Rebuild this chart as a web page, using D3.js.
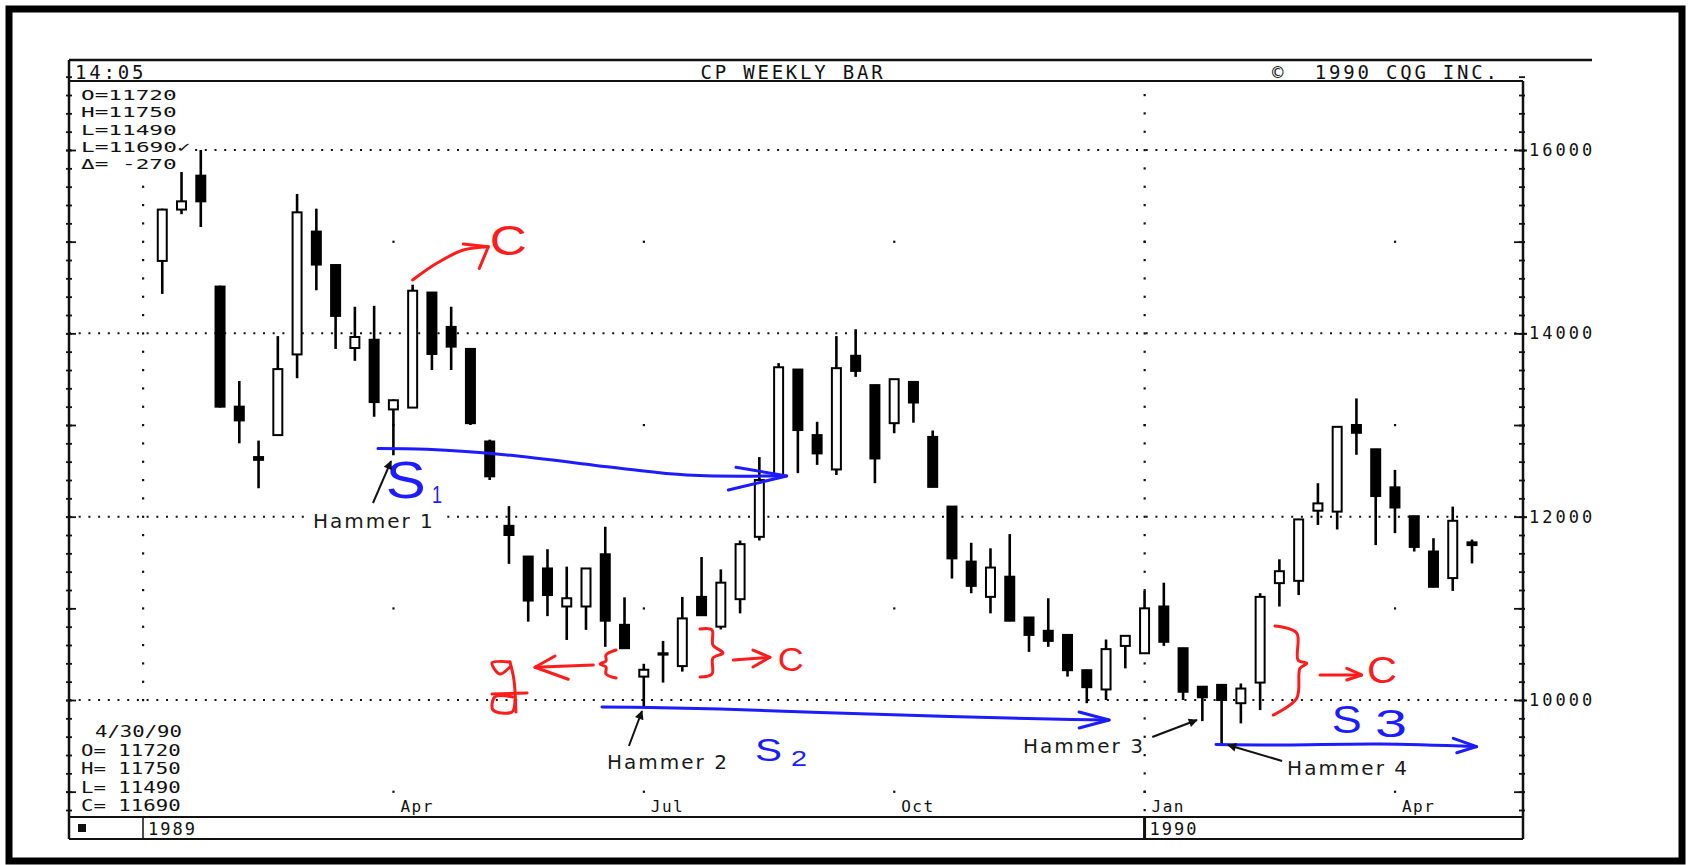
<!DOCTYPE html>
<html>
<head>
<meta charset="utf-8">
<title>CP Weekly Bar</title>
<script src="https://cdn.jsdelivr.net/npm/d3@7/dist/d3.min.js"></script>
<style>
  html, body { margin: 0; padding: 0; background: #fff; }
  svg { display: block; }
  .mono { font-family: "DejaVu Sans Mono", "Liberation Mono", monospace; fill: #111; }
</style>
</head>
<body>
<div id="chart"></div>
<script>
// weekly bars, one per Monday
const firstWeek = "1989-01-09";
const lastWeek  = "1990-04-30";

const opens  = [14790, 15350, 15720, 14510, 13200, 12650, 12890, 13770, 15110, 14745, 13840, 13930, 13170,
                13190, 14445, 14070, 13830, 12820, 11900, 11565, 11435, 11020, 11020, 11590, 10820, 10255,
                10510, 10370, 11125, 10800, 11100, 11780, 12445, 13605, 12890, 12515, 13755, 13435, 13020,
                13470, 12870, 12110, 11510, 11125, 11345, 10900, 10755, 10710, 10325, 10115, 10590, 10510,
                11020, 10565, 10145, 10165,  9965, 10190, 11275, 11300, 12065, 12055, 13000, 12735, 12320,
                12005, 11620, 11330, 11720];
const highs  = [15360, 15760, 16000, 14520, 13480, 12830, 13970, 15520, 15360, 14750, 14290, 14300, 13280,
                14530, 14450, 14290, 13830, 12840, 12115, 11570, 11645, 11455, 11440, 11890, 11120, 10395,
                10645, 11125, 11560, 11425, 11740, 12650, 13675, 13610, 13035, 13970, 14045, 13440, 13500,
                13475, 12940, 12110, 11715, 11655, 11810, 10905, 11110, 10715, 10330, 10660, 10700, 11190,
                11280, 10570, 10150, 10170, 10180, 11165, 11535, 11975, 12365, 12985, 13290, 12740, 12510,
                12010, 11765, 12110, 11750];
const lows   = [14430, 15300, 15160, 13190, 12800, 12310, 12880, 13510, 14470, 13830, 13700, 13090, 12670,
                13190, 13600, 13600, 13000, 12400, 11485, 10855, 10915, 10655, 10765, 10580, 10560,  9920,
                10190, 10310, 10925, 10770, 10945, 11740, 12440, 12475, 12565, 12455, 13525, 12365, 12910,
                13025, 12320, 11325, 11165, 10945, 10860, 10525, 10580, 10255,  9965, 10000, 10345, 10505,
                10590, 10000,  9770,  9510,  9745,  9890, 11020, 11145, 11910, 11860, 12675, 11690, 11820,
                11620, 11230, 11190, 11490];
const closes = [15350, 15440, 15440, 13200, 13050, 12620, 13610, 15320, 14750, 14190, 13960, 13250, 13270,
                14465, 13775, 13855, 13020, 12440, 11800, 11085, 11145, 11110, 11435, 10865, 10565, 10330,
                10495, 10890, 10925, 11280, 11700, 12400, 13630, 12945, 12690, 13620, 13590, 12635, 13500,
                13245, 12325, 11545, 11245, 11445, 10865, 10710, 10645, 10325, 10140, 10555, 10700, 11000,
                10635, 10090, 10030, 10000, 10125, 11125, 11405, 11970, 12145, 12980, 12915, 12225, 12100,
                11670, 11235, 11955, 11690];

// axis text
const quarterStarts = ["1989-01-02", "1989-04-03", "1989-07-03", "1989-10-02", "1990-01-01", "1990-04-02"];
const quarterNames  = ["", "Apr", "Jul", "Oct", "Jan", "Apr"];
const yearStarts = ["1989-01-02", "1990-01-01"];
const yearNames  = ["1989", "1990"];
const priceLines = [10000, 12000, 14000, 16000];

// header and readout text
const headerLeft  = "14:05";
const headerTitle = "CP WEEKLY BAR";
const headerRight = "©\u00a0 1990 CQG INC.";
const topReadout    = ["O=11720", "H=11750", "L=11490", "L=11690✓", "Δ= -270"];
const bottomDate    = "4/30/90";
const bottomReadout = ["O= 11720", "H= 11750", "L= 11490", "C= 11690"];

// hand-drawn notes, points as [week index, price]
const hammerNames   = ["Hammer 1", "Hammer 2", "Hammer 3", "Hammer 4"];
const hammerAnchors = [[7.82, 11876], [23.09, 9247], [44.69, 9422], [58.4, 9182]];
const hammerArrows  = [
  [[10.94, 12149], [11.88, 12607]],
  [[24.23, 9498], [24.91, 9880]],
  [[51.4, 9596], [53.72, 9782]],
  [[58.14, 9335], [55.33, 9509]]
];
const blueLines = [
  [[11.2, 12744], [13.74, 12735], [17.9, 12673], [23.76, 12528], [27.24, 12455], [32.42, 12444]],
  [[22.83, 9924], [25.32, 9918], [28.96, 9902], [34.15, 9864], [40.9, 9820], [46.09, 9793], [49.16, 9782]],
  [[54.71, 9515], [58.03, 9509], [63.22, 9520], [68.24, 9491]]
];
const blueHeads = [
  [[29.79, 12539], [32.42, 12444], [29.39, 12291]],
  [[47.6, 9869], [49.16, 9782], [47.6, 9695]],
  [[67.03, 9582], [68.24, 9491], [67.21, 9425]]
];
const redLines = [
  [[13.0, 14582], [14.25, 14764], [15.63, 14909], [16.93, 14945]],
  [[22.38, 10382], [19.35, 10357]],
  [[29.65, 10436], [31.55, 10466]],
  [[60.11, 10273], [62.27, 10273]],
  // braces
  [[23.56, 10545], [23.04, 10491], [23.04, 10425], [22.73, 10393], [23.04, 10360], [23.04, 10284], [23.56, 10240]],
  [[27.92, 10775], [28.54, 10764], [28.59, 10600], [29.11, 10513], [28.59, 10458], [28.54, 10284], [27.92, 10251]],
  [[57.77, 10807], [58.9, 10731], [58.97, 10436], [59.42, 10400], [59.07, 10346], [58.9, 10019], [57.68, 9836]],
  // scribbled mark left of the first brace
  [[18.05, 10415], [17.12, 10404], [17.53, 10284], [18.05, 10360]],
  [[18.05, 10415], [18.26, 10218], [18.36, 9869]],
  [[17.12, 10065], [18.94, 10076]],
  [[18.21, 10033], [17.27, 10033], [17.17, 9891], [18.16, 9869], [18.31, 10000]]
];
const redHeads = [
  [[15.63, 14974], [16.93, 14945], [16.46, 14709]],
  [[20.39, 10480], [19.35, 10357], [21.08, 10226]],
  [[30.67, 10545], [31.55, 10466], [30.67, 10360]],
  [[61.5, 10346], [62.27, 10273], [61.5, 10218]]
];
const noteTexts = [
  { text: "C", at: [17.01, 14850], color: "red",  size: 42, len: 37 },
  { text: "C", at: [31.96, 10320], color: "red",  size: 34, len: 26 },
  { text: "C", at: [62.55, 10185], color: "red",  size: 36, len: 30 },
  { text: "S", at: [11.61, 12204], color: "blue", size: 52, len: 40 },
  { text: "1", at: [14.0, 12149],  color: "blue", size: 24, len: 10 },
  { text: "S", at: [30.77, 9335],  color: "blue", size: 32, len: 27 },
  { text: "2", at: [32.64, 9280],  color: "blue", size: 22, len: 16 },
  { text: "S", at: [60.72, 9637],  color: "blue", size: 39, len: 30 },
  { text: "3", at: [62.96, 9600],  color: "blue", size: 39, len: 32 }
];

const W = 1691, H = 865;
const plot = { left: 69, right: 1523, top: 81, bottom: 817, head: 60, strip: 839 };
const inkRed = "#ff1c1c", inkBlue = "#1c1cff";

const parseDay = d3.utcParse("%Y-%m-%d");
const weeks = d3.utcMonday.range(parseDay(firstWeek), d3.utcDay.offset(parseDay(lastWeek), 1));
const bars = weeks.map((d, i) => ({ date: d, o: opens[i], h: highs[i], l: lows[i], c: closes[i] }));

const x = d3.scaleUtc()
  .domain([parseDay(quarterStarts[0]), parseDay(lastWeek)])
  .range([143, 1472]);
const y = d3.scaleLinear().domain([10000, 16000]).range([700, 150]);
// fractional week position, for the notes
const wx = d3.scaleLinear()
  .domain([0, bars.length - 1])
  .range([x(weeks[0]), x(weeks[weeks.length - 1])]);
const pt = (p) => [wx(p[0]), y(p[1])];

const minorTicks = d3.range(8800, 16801, 200);
const majorTicks = d3.range(9000, 16001, 1000);
const oddThousands = majorTicks.filter((v) => v % 2000 !== 0);

const svg = d3.select("#chart").append("svg")
  .attr("width", W).attr("height", H);

svg.append("rect").attr("width", W).attr("height", H).attr("fill", "#fff");

// arrow tip for the black pointers
svg.append("defs").append("marker")
  .attr("id", "tip")
  .attr("viewBox", "0 0 10 10")
  .attr("refX", 9).attr("refY", 5)
  .attr("markerWidth", 13).attr("markerHeight", 9)
  .attr("markerUnits", "userSpaceOnUse")
  .attr("orient", "auto")
  .append("path").attr("d", "M0,0L10,5L0,10z").attr("fill", "#111");

// Outer frame
svg.append("rect")
  .attr("x", 9).attr("y", 9).attr("width", W - 18).attr("height", H - 13)
  .attr("fill", "none").attr("stroke", "#000").attr("stroke-width", 7);

// Horizontal dotted grid
svg.append("g").selectAll("line")
  .data(priceLines)
  .join("line")
  .attr("x1", plot.left).attr("x2", plot.right)
  .attr("y1", (d) => y(d)).attr("y2", (d) => y(d))
  .attr("stroke", "#111").attr("stroke-width", 2)
  .attr("stroke-dasharray", "2,7.7");

// Year lines: dot at every minor tick
yearStarts.forEach((s) => {
  svg.append("g").selectAll("rect")
    .data(minorTicks.filter((v) => y(v) > plot.top && y(v) < plot.bottom))
    .join("rect")
    .attr("x", x(parseDay(s)) - 1).attr("y", (d) => y(d) - 1)
    .attr("width", 2.2).attr("height", 2.2).attr("fill", "#111");
});

// Quarter lines: sparse dots
quarterStarts.slice(1).forEach((s) => {
  svg.append("g").selectAll("rect")
    .data(oddThousands)
    .join("rect")
    .attr("x", x(parseDay(s)) - 1).attr("y", (d) => y(d) - 1)
    .attr("width", 2.2).attr("height", 2.2).attr("fill", "#111");
});

// Readout boxes knock out the grid behind them
svg.append("rect").attr("x", 73).attr("y", 83).attr("width", 122).attr("height", 93).attr("fill", "#fff");
svg.append("rect").attr("x", 73).attr("y", 716).attr("width", 118).attr("height", 99).attr("fill", "#fff");

// Frame lines
const frame = svg.append("g").attr("stroke", "#111").attr("fill", "none");
frame.append("line").attr("x1", plot.left).attr("x2", 1592).attr("y1", plot.head).attr("y2", plot.head).attr("stroke-width", 2.5);
frame.append("line").attr("x1", plot.left).attr("x2", plot.right).attr("y1", plot.top).attr("y2", plot.top).attr("stroke-width", 2);
frame.append("line").attr("x1", plot.left).attr("x2", plot.right).attr("y1", plot.bottom).attr("y2", plot.bottom).attr("stroke-width", 2);
frame.append("line").attr("x1", plot.left).attr("x2", plot.right).attr("y1", plot.strip).attr("y2", plot.strip).attr("stroke-width", 2);
frame.append("line").attr("x1", plot.left).attr("x2", plot.left).attr("y1", plot.head).attr("y2", plot.strip).attr("stroke-width", 2.5);
frame.append("line").attr("x1", plot.right).attr("x2", plot.right).attr("y1", plot.top).attr("y2", plot.strip).attr("stroke-width", 2.5);
yearStarts.forEach((s, i) => {
  frame.append("line")
    .attr("x1", x(parseDay(s))).attr("x2", x(parseDay(s)))
    .attr("y1", plot.bottom).attr("y2", plot.strip)
    .attr("stroke-width", i ? 3 : 1.5);
});

// Axis ticks
const tickStyle = (g) => g.call((a) => a.select(".domain").remove())
  .selectAll("line").attr("stroke", "#111").attr("stroke-width", 1.8);

svg.append("g").attr("transform", `translate(${plot.left - 3},0)`)
  .call(d3.axisRight(y).tickValues(minorTicks).tickSize(6).tickFormat(""))
  .call(tickStyle);
svg.append("g").attr("transform", `translate(${plot.left - 3},0)`)
  .call(d3.axisRight(y).tickValues(majorTicks).tickSize(10).tickFormat(""))
  .call(tickStyle);
svg.append("g").attr("transform", `translate(${plot.right + 2},0)`)
  .call(d3.axisLeft(y).tickValues(minorTicks).tickSize(6).tickFormat(""))
  .call(tickStyle);
svg.append("g").attr("transform", `translate(${plot.right + 2},0)`)
  .call(d3.axisLeft(y).tickValues(majorTicks).tickSize(11).tickFormat(""))
  .call(tickStyle);

// Right price labels
svg.append("g").attr("transform", `translate(${plot.right},0)`)
  .call(d3.axisRight(y).tickValues(priceLines).tickSize(4).tickPadding(2).tickFormat(d3.format("d")))
  .call((g) => g.select(".domain").remove())
  .call((g) => g.selectAll("line").attr("stroke", "#111").attr("stroke-width", 2))
  .selectAll("text")
  .attr("class", "mono")
  .attr("font-size", 17)
  .attr("letter-spacing", 3)
  .attr("fill", "#111");

// Header
const head = svg.append("g").attr("class", "mono").attr("font-size", 19).attr("letter-spacing", 2.8);
head.append("text").attr("x", 75).attr("y", 79).text(headerLeft);
head.append("text").attr("x", 793).attr("y", 79).attr("text-anchor", "middle").text(headerTitle);
head.append("text").attr("x", 1272).attr("y", 79).text(headerRight);

// Readouts (stretched to the wide CQG character cell)
svg.append("g").attr("class", "mono").attr("font-size", 14.6)
  .selectAll("text").data(topReadout).join("text")
  .attr("x", 81).attr("y", (d, i) => 100 + i * 17.3)
  .attr("textLength", (d) => d.length * 14.1 - 3)
  .attr("lengthAdjust", "spacingAndGlyphs")
  .text((d) => d);

svg.append("text").attr("class", "mono")
  .attr("font-size", 15.5)
  .attr("textLength", bottomDate.length * 12.7 - 2)
  .attr("lengthAdjust", "spacingAndGlyphs")
  .attr("x", 95).attr("y", 737).text(bottomDate);
svg.append("g").attr("class", "mono").attr("font-size", 15.5)
  .selectAll("text").data(bottomReadout).join("text")
  .attr("x", 81).attr("y", (d, i) => 756 + i * 18.4)
  .attr("textLength", (d) => d.length * 12.7 - 2)
  .attr("lengthAdjust", "spacingAndGlyphs")
  .text((d) => d);

// Month and year labels
svg.append("g").attr("class", "mono").attr("font-size", 16).attr("letter-spacing", 1.5)
  .selectAll("text").data(quarterStarts).join("text")
  .attr("x", (d) => x(parseDay(d)) + 7).attr("y", 812)
  .text((d, i) => quarterNames[i]);
svg.append("g").attr("class", "mono").attr("font-size", 17).attr("letter-spacing", 2)
  .selectAll("text").data(yearStarts).join("text")
  .attr("x", (d) => x(parseDay(d)) + 5).attr("y", 835)
  .text((d, i) => yearNames[i]);
svg.append("rect").attr("x", 78).attr("y", 824).attr("width", 8).attr("height", 8).attr("fill", "#111");

// Candles
const bw = 9;
const candles = svg.append("g");
candles.selectAll("line")
  .data(bars)
  .join("line")
  .attr("x1", (d) => x(d.date)).attr("x2", (d) => x(d.date))
  .attr("y1", (d) => y(d.h)).attr("y2", (d) => y(d.l))
  .attr("stroke", "#000").attr("stroke-width", 2.6);
candles.selectAll("rect")
  .data(bars)
  .join("rect")
  .attr("x", (d) => x(d.date) - bw / 2)
  .attr("y", (d) => y(Math.max(d.o, d.c)))
  .attr("width", bw)
  .attr("height", (d) => Math.max(1, Math.abs(y(d.o) - y(d.c))))
  .attr("fill", (d) => (d.c > d.o ? "#fff" : "#000"))
  .attr("stroke", "#000").attr("stroke-width", 2);

// Hand-drawn notes
const ink = d3.line().x((p) => pt(p)[0]).y((p) => pt(p)[1]).curve(d3.curveCatmullRom.alpha(0.5));
const inkStraight = d3.line().x((p) => pt(p)[0]).y((p) => pt(p)[1]);

const notes = svg.append("g")
  .attr("fill", "none")
  .attr("stroke-linecap", "round")
  .attr("stroke-linejoin", "round");

notes.selectAll("path.blue").data(blueLines).join("path")
  .attr("class", "blue").attr("d", ink)
  .attr("stroke", inkBlue).attr("stroke-width", 3);
notes.selectAll("path.blueHead").data(blueHeads).join("path")
  .attr("class", "blueHead").attr("d", inkStraight)
  .attr("stroke", inkBlue).attr("stroke-width", 3);
notes.selectAll("path.red").data(redLines).join("path")
  .attr("class", "red").attr("d", ink)
  .attr("stroke", inkRed).attr("stroke-width", 3);
notes.selectAll("path.redHead").data(redHeads).join("path")
  .attr("class", "redHead").attr("d", inkStraight)
  .attr("stroke", inkRed).attr("stroke-width", 3);

svg.append("g").selectAll("text").data(noteTexts).join("text")
  .attr("x", (d) => pt(d.at)[0]).attr("y", (d) => pt(d.at)[1])
  .attr("font-family", "Liberation Sans, Arial, sans-serif")
  .attr("font-size", (d) => d.size)
  .attr("textLength", (d) => d.len)
  .attr("lengthAdjust", "spacingAndGlyphs")
  .attr("fill", (d) => (d.color === "red" ? inkRed : inkBlue))
  .text((d) => d.text);

// Hammer labels and pointers
const labels = svg.append("g");
hammerNames.forEach((name, i) => {
  const [lx, ly] = pt(hammerAnchors[i]);
  const t = labels.append("text")
    .attr("x", lx).attr("y", ly)
    .attr("font-family", "DejaVu Sans, Verdana, sans-serif")
    .attr("font-size", 20).attr("letter-spacing", 2)
    .attr("fill", "#1a1a1a")
    .text(name);
  if (i === 0) {
    const b = t.node().getBBox();
    labels.insert("rect", "text")
      .attr("x", b.x - 2).attr("y", b.y + 3).attr("width", b.width + 10).attr("height", b.height - 6)
      .attr("fill", "#fff");
  }
});
labels.selectAll("path").data(hammerArrows).join("path")
  .attr("d", inkStraight)
  .attr("stroke", "#111").attr("stroke-width", 2)
  .attr("fill", "none")
  .attr("marker-end", "url(#tip)");
</script>
</body>
</html>
